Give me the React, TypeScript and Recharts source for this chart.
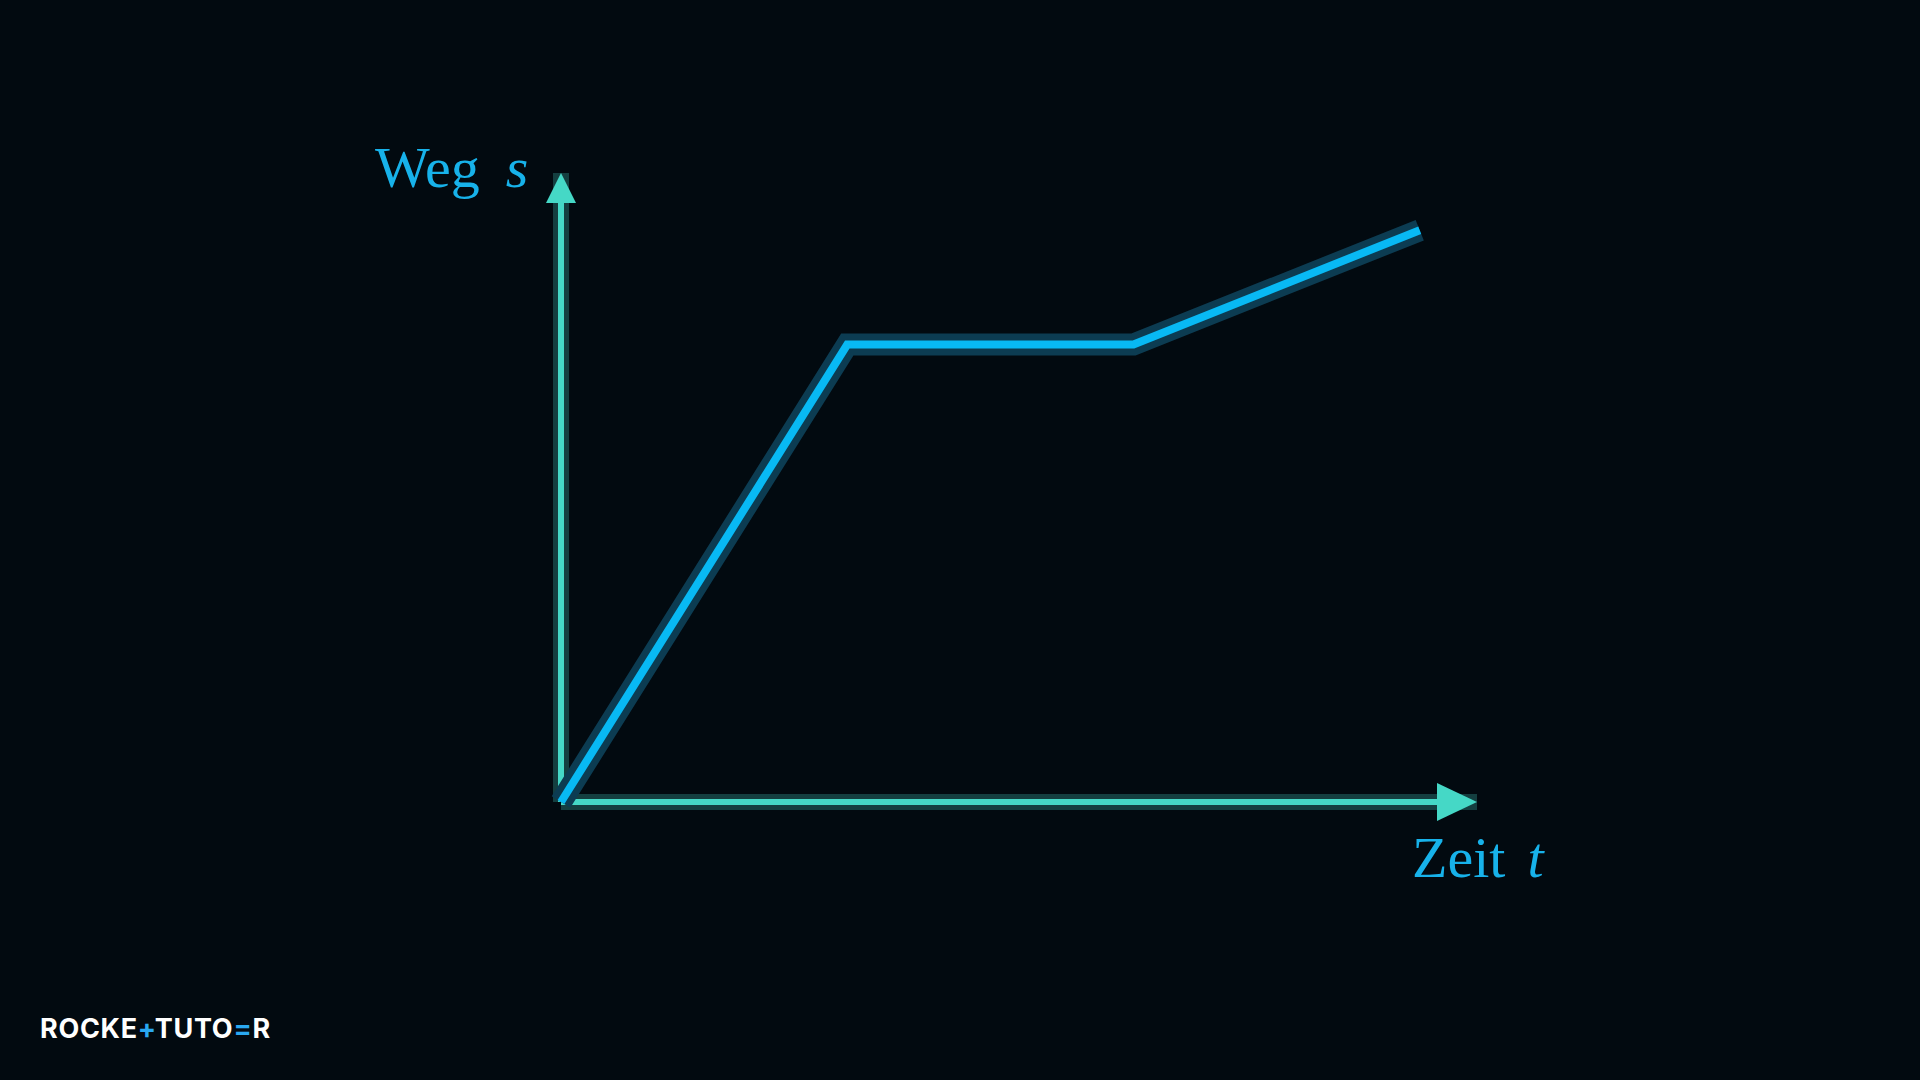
import { LineChart, Line, XAxis, YAxis, ReferenceLine } from 'recharts'

// s-t diagram: drive, stop, drive slower
const TIME = [0, 1, 2, 3]
const DISTANCE = [0, 4, 4, 5]
const X_MAX = 3.2
const Y_MAX = 5.5

const BG = '#020a10'
const AXIS = '#45d8c6'
const AXIS_HALO = '#143f40'
const LINE = '#08b9f4'
const LINE_HALO = '#0c3c52'
const TEXT = '#17b2ea'

const data = TIME.map((t, i) => ({ t, s: DISTANCE[i] }))

// axis with a wide dark halo and an arrow head at (x2, y2)
function arrowAxis(len: number, width: number) {
  return (p: any) => {
    const { x1, y1, x2, y2 } = p
    const dx = x2 - x1
    const dy = y2 - y1
    const d = Math.hypot(dx, dy) || 1
    const ux = dx / d
    const uy = dy / d
    const bx = x2 - ux * len
    const by = y2 - uy * len
    const nx = -uy * width / 2
    const ny = ux * width / 2
    return (
      <g>
        <line x1={x1} y1={y1} x2={x2} y2={y2} stroke={AXIS_HALO} strokeWidth={16} />
        <line x1={x1} y1={y1} x2={bx} y2={by} stroke={AXIS} strokeWidth={6} />
        <polygon points={`${x2},${y2} ${bx + nx},${by + ny} ${bx - nx},${by - ny}`} fill={AXIS} />
      </g>
    )
  }
}

export default function App() {
  return (
    <div style={{ position: 'fixed', left: 0, top: 0, width: 1920, height: 1080, background: BG }}>
      <LineChart
        width={1920}
        height={1080}
        data={data}
        margin={{ top: 173, right: 443, bottom: 278, left: 561 }}
      >
        <XAxis dataKey="t" type="number" domain={[0, X_MAX]} hide />
        <YAxis type="number" domain={[0, Y_MAX]} hide />
        <ReferenceLine
          segment={[{ x: 0, y: 0 }, { x: 0, y: Y_MAX }]}
          shape={arrowAxis(30, 30)}
          ifOverflow="visible"
        />
        <ReferenceLine
          segment={[{ x: 0, y: 0 }, { x: X_MAX, y: 0 }]}
          shape={arrowAxis(40, 38)}
          ifOverflow="visible"
        />
        <Line dataKey="s" stroke={LINE_HALO} strokeWidth={22} strokeLinecap="butt" strokeLinejoin="miter" dot={false} isAnimationActive={false} />
        <Line dataKey="s" stroke={LINE} strokeWidth={8} strokeLinecap="butt" strokeLinejoin="miter" dot={false} isAnimationActive={false} />
        <text x={375} y={187} fill={TEXT} fontFamily="'Liberation Serif', serif" fontSize={58}>
          Weg<tspan dx={26} fontStyle="italic">s</tspan>
        </text>
        <text x={1412} y={877} fill={TEXT} fontFamily="'Liberation Serif', serif" fontSize={58}>
          Zeit<tspan dx={22} fontStyle="italic">t</tspan>
        </text>
        <text x={40} y={1038} fill="#ffffff" fontFamily="Inter, sans-serif" fontWeight={700} fontSize={27} letterSpacing={0.7}>
          ROCKE<tspan fill="#2aa8f0">+</tspan>TUTO<tspan fill="#2aa8f0">=</tspan>R
        </text>
      </LineChart>
    </div>
  )
}
